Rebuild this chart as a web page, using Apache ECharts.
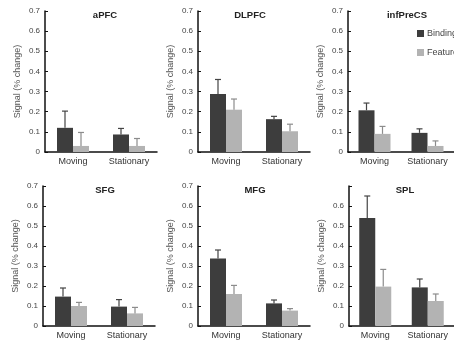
<!DOCTYPE html>
<html>
<head>
<meta charset="utf-8">
<script src="https://cdn.jsdelivr.net/npm/echarts@6/dist/echarts.min.js"></script>
<style>html,body{margin:0;padding:0;background:#fff;}#c{width:454px;height:344px;}</style>
</head>
<body>
<div id="c"></div>
<script>
var categories = ['Moving', 'Stationary'];
var panelNames = ['aPFC', 'DLPFC', 'infPreCS', 'SFG', 'MFG', 'SPL'];
var bindingMean = [[0.12, 0.087], [0.288, 0.163], [0.207, 0.095], [0.147, 0.097], [0.337, 0.113], [0.54, 0.193]];
var bindingSem = [[0.083, 0.03], [0.072, 0.014], [0.036, 0.02], [0.043, 0.035], [0.043, 0.017], [0.11, 0.042]];
var featuresMean = [[0.03, 0.03], [0.21, 0.103], [0.09, 0.03], [0.1, 0.063], [0.16, 0.077], [0.197, 0.125]];
var featuresSem = [[0.067, 0.037], [0.053, 0.035], [0.037, 0.025], [0.018, 0.03], [0.043, 0.01], [0.086, 0.035]];
var yTicks = [0, 0.1, 0.2, 0.3, 0.4, 0.5, 0.6, 0.7];

var FONT = 'Liberation Sans, Arial, Helvetica, sans-serif';
var DARK = '#3d3d3d', LIGHT = '#b3b3b3';
var gridsPos = [
  {left: 45, right: 454 - 157, top: 11, bottom: 344 - 152},
  {left: 198, right: 454 - 310, top: 11, bottom: 344 - 152},
  {left: 348, right: -6, top: 11, bottom: 344 - 152},
  {left: 43, right: 454 - 155, top: 186, bottom: 344 - 326},
  {left: 198, right: 454 - 310, top: 186, bottom: 344 - 326},
  {left: 349, right: -7, top: 186, bottom: 344 - 326}
];
var titlePos = [[100, 5], [245, 5], [402, 5], [100, 180], [250, 180], [400, 180]];

function errItem(offset, color) {
  return function (params, api) {
    var idx = api.value(0), m = api.value(1), s = api.value(2);
    var p0 = api.coord([idx, m]);
    var p1 = api.coord([idx, m + s]);
    var x = p0[0] + offset;
    return {
      type: 'group',
      children: [
        {type: 'line', shape: {x1: x, y1: p0[1], x2: x, y2: p1[1]}, style: {stroke: color, lineWidth: 1.2}},
        {type: 'line', shape: {x1: x - 3, y1: p1[1], x2: x + 3, y2: p1[1]}, style: {stroke: color, lineWidth: 1.2}}
      ]
    };
  };
}

var grid = [], xAxis = [], yAxis = [], series = [], title = [];
for (var i = 0; i < 6; i++) {
  grid.push(gridsPos[i]);
  title.push({text: panelNames[i], left: titlePos[i][0], top: titlePos[i][1], textAlign: 'center',
    textStyle: {fontFamily: FONT, fontSize: 9.5, fontWeight: 'bold', color: '#222'}});
  xAxis.push({type: 'category', gridIndex: i, data: categories,
    axisLine: {lineStyle: {color: '#111', width: 1.5}}, axisTick: {show: false},
    axisLabel: {fontFamily: FONT, fontSize: 9, color: '#333', margin: 5, interval: 0, hideOverlap: false}});
  yAxis.push({type: 'value', gridIndex: i, min: 0, max: 0.7, interval: 0.1,
    name: 'Signal (% change)', nameLocation: 'middle', nameGap: 23,
    nameTextStyle: {fontFamily: FONT, fontSize: 9, color: '#555'},
    splitLine: {show: false},
    axisLine: {show: true, lineStyle: {color: '#111', width: 1.5}},
    axisTick: {show: true, inside: true, length: 3, lineStyle: {color: '#111'}},
    axisLabel: {fontFamily: FONT, fontSize: 8, color: '#444', margin: 5,
      formatter: (function (k) { return function (v) {
        if (k === 5 && Math.abs(v - 0.7) < 1e-9) return '';
        return String(Math.round(v * 10) / 10);
      }; })(i)}
  });
  series.push({name: 'Binding', type: 'bar', xAxisIndex: i, yAxisIndex: i, barWidth: 16, barGap: '0%',
    itemStyle: {color: DARK}, data: bindingMean[i], z: 2});
  series.push({name: 'Features', type: 'bar', xAxisIndex: i, yAxisIndex: i, barWidth: 16, barGap: '0%',
    itemStyle: {color: LIGHT}, data: featuresMean[i], z: 2});
  series.push({name: 'errB' + i, type: 'custom', xAxisIndex: i, yAxisIndex: i, z: 3,
    renderItem: errItem(-8, '#444'),
    data: categories.map(function (c, j) { return [j, bindingMean[i][j], bindingSem[i][j]]; })});
  series.push({name: 'errF' + i, type: 'custom', xAxisIndex: i, yAxisIndex: i, z: 3,
    renderItem: errItem(8, '#8c8c8c'),
    data: categories.map(function (c, j) { return [j, featuresMean[i][j], featuresSem[i][j]]; })});
}

var chart = echarts.init(document.getElementById('c'));
chart.setOption({
  animation: false,
  backgroundColor: '#fff',
  title: title,
  legend: {data: [{name: 'Binding', icon: 'rect'}, {name: 'Features', icon: 'rect'}],
    orient: 'vertical', left: 417, top: 29, padding: 0,
    itemWidth: 7, itemHeight: 7, itemGap: 10, selectedMode: false,
    textStyle: {fontFamily: FONT, fontSize: 9, color: '#444', padding: [0, 0, 0, -2]}},
  grid: grid, xAxis: xAxis, yAxis: yAxis, series: series
});
</script>
</body>
</html>
